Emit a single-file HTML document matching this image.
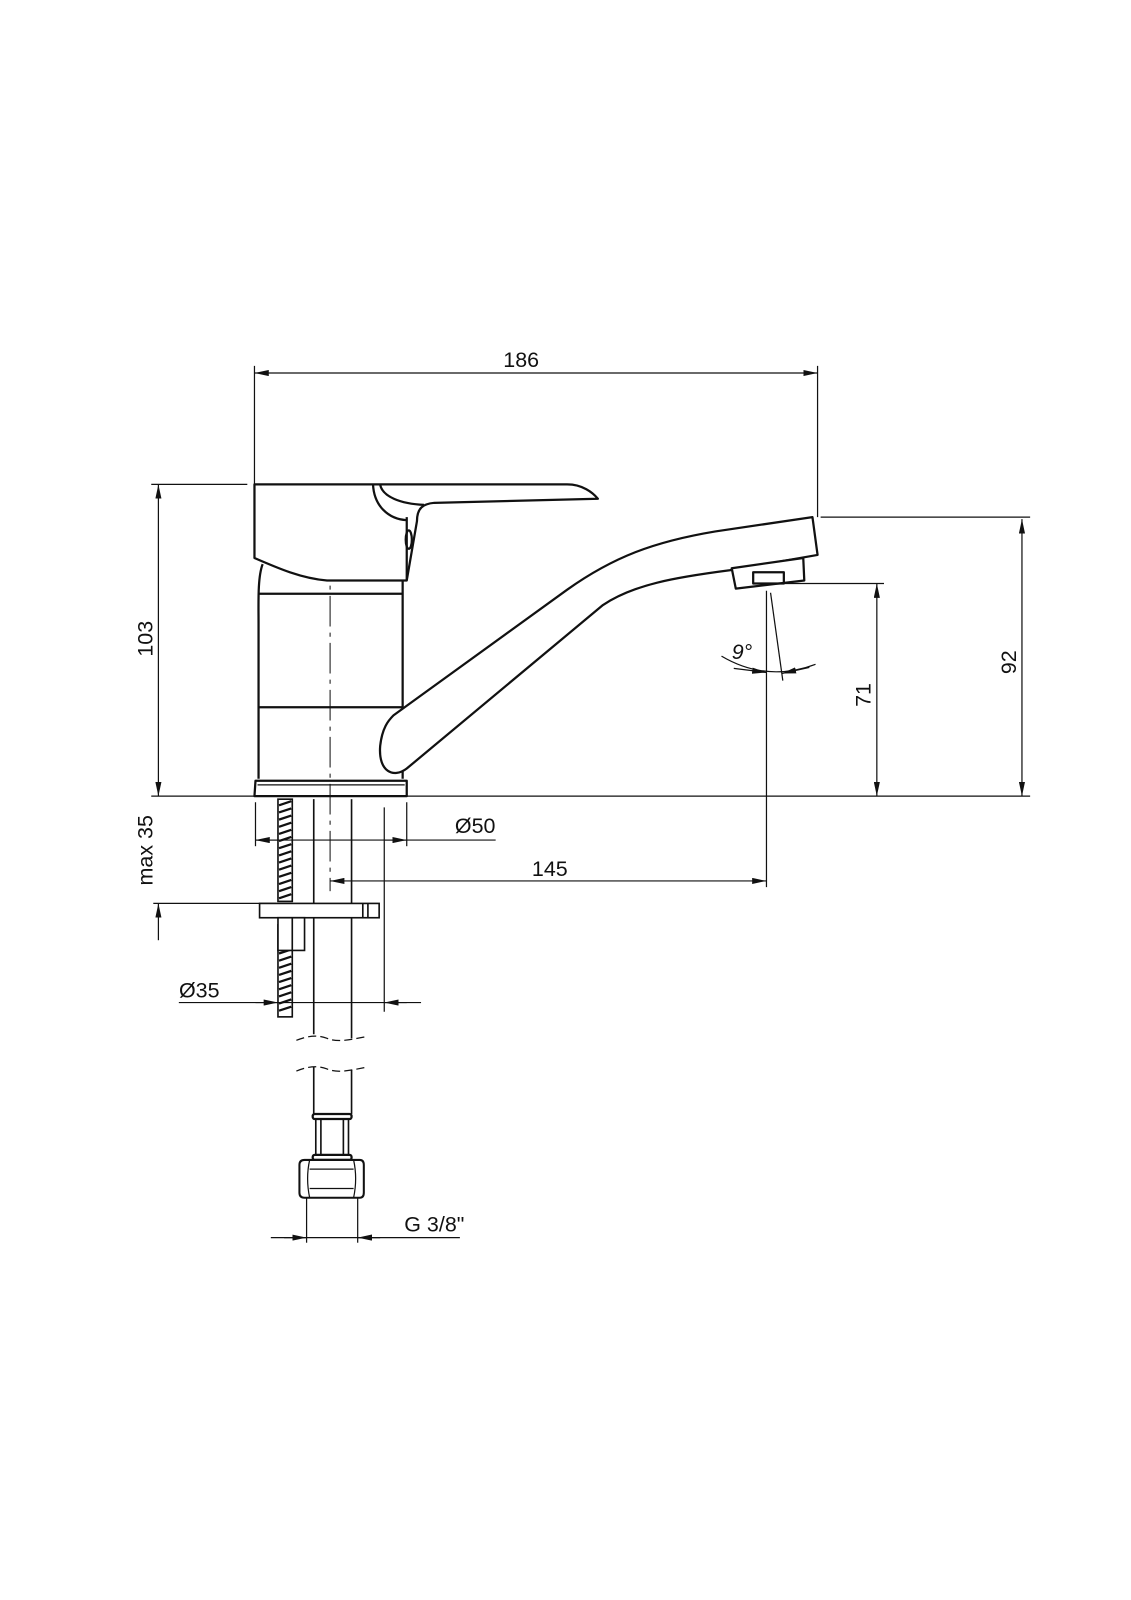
<!DOCTYPE html>
<html><head><meta charset="utf-8"><style>
html,body{margin:0;padding:0;background:#fff;}
svg{display:block;}
text{font-family:"Liberation Sans Narrow","Liberation Sans",sans-serif;font-size:21px;fill:#111;}
</style></head><body>
<svg width="1131" height="1600" viewBox="0 0 1106.7 1565.6" xmlns="http://www.w3.org/2000/svg">
<defs>
<marker id="a" viewBox="0 0 14 6" refX="14" refY="3" markerWidth="14" markerHeight="6" markerUnits="userSpaceOnUse" orient="auto-start-reverse"><path d="M0,0 L14,3 L0,6 Z" fill="#111"/></marker>
</defs>
<g stroke="#111" stroke-width="1.2" fill="none">
<line x1="249" y1="365" x2="800" y2="365" marker-start="url(#a)" marker-end="url(#a)"/>
<line x1="249" y1="358" x2="249" y2="474"/>
<line x1="800" y1="358" x2="800" y2="506"/>
<line x1="155" y1="474" x2="155" y2="779" marker-start="url(#a)" marker-end="url(#a)"/>
<line x1="148" y1="474" x2="242" y2="474"/>
<line x1="148" y1="779" x2="1008" y2="779"/>
<line x1="155" y1="884" x2="155" y2="920" marker-start="url(#a)"/>
<line x1="150" y1="884" x2="270" y2="884"/>
<line x1="250" y1="822" x2="485" y2="822"/>
<line x1="272" y1="822" x2="250" y2="822" marker-end="url(#a)"/>
<line x1="376" y1="822" x2="398" y2="822" marker-end="url(#a)"/>
<line x1="250" y1="785" x2="250" y2="828"/>
<line x1="398" y1="785" x2="398" y2="828"/>
<line x1="323" y1="862" x2="750" y2="862" marker-start="url(#a)" marker-end="url(#a)"/>
<line x1="175" y1="981" x2="412" y2="981"/>
<line x1="250" y1="981" x2="272" y2="981" marker-end="url(#a)"/>
<line x1="398" y1="981" x2="376" y2="981" marker-end="url(#a)"/>
<line x1="376" y1="790" x2="376" y2="990"/>
<line x1="265" y1="1211" x2="450" y2="1211"/>
<line x1="278" y1="1211" x2="300" y2="1211" marker-end="url(#a)"/>
<line x1="372" y1="1211" x2="350" y2="1211" marker-end="url(#a)"/>
<line x1="300" y1="1172" x2="300" y2="1216"/>
<line x1="350" y1="1172" x2="350" y2="1216"/>
<line x1="1000" y1="508" x2="1000" y2="779" marker-start="url(#a)" marker-end="url(#a)"/>
<line x1="803" y1="506" x2="1008" y2="506"/>
<line x1="858" y1="571" x2="858" y2="779" marker-start="url(#a)" marker-end="url(#a)"/>
<line x1="750" y1="571" x2="865" y2="571"/>
<line x1="750" y1="578" x2="750" y2="868"/>
<line x1="754" y1="580" x2="766" y2="666"/>
<path d="M706,642 Q750,668 798,650"/>
<line x1="718" y1="654" x2="750" y2="658" marker-end="url(#a)"/>
<line x1="792" y1="653" x2="765" y2="659" marker-end="url(#a)"/>
<line x1="323" y1="537" x2="323" y2="872" stroke-dasharray="30,6,4,6" stroke-width="1"/>
</g>
<g stroke="#111" stroke-width="2.2" fill="none" stroke-linejoin="round">
<path d="M249,474 L555,474 C570,474 580,482 585,488 L425,492 C414,493 408,497 408,510 L398,568 L320,568 C295,566 272,556 249,546 Z" fill="#fff"/>
<path d="M398,506 L398,568"/>
<path d="M365,474 C366,495 380,508 398,509"/>
<path d="M372,474 C374,486 392,493 415,494"/>
<ellipse cx="400" cy="528" rx="3" ry="9"/>
<path d="M257,552 C252,565 253,590 253,610 L253,762"/>
<path d="M394,568 L394,762"/>
<line x1="253" y1="581" x2="394" y2="581"/>
<line x1="253" y1="692" x2="394" y2="692"/>
<path d="M250,764 L398,764 L398,779 L249,779 Z"/>
<line x1="252" y1="768" x2="396" y2="768" stroke-width="1.2"/>
<path d="M385,700 L555,577 C600,545 640,530 700,520 L795,506 L800,543 L714,558 C660,565 620,572 590,592 L398,752 C385,762 370,755 372,730 C374,712 380,705 385,700 Z" fill="#fff"/>
<path d="M716,556 L786,546 L787,568 L720,576 Z" fill="#fff"/>
<rect x="737" y="560" width="30" height="11"/>
</g>
<g stroke="#111" stroke-width="1.6" fill="none">
<rect x="272" y="782" width="14" height="100"/>
<rect x="272" y="905" width="14" height="90"/>
<path d="M273,788 L285,784 M273,795 L285,791 M273,802 L285,798 M273,809 L285,805 M273,816 L285,812 M273,823 L285,819 M273,830 L285,826 M273,837 L285,833 M273,844 L285,840 M273,851 L285,847 M273,858 L285,854 M273,865 L285,861 M273,872 L285,868 M273,879 L285,875 M273,912 L285,908 M273,919 L285,915 M273,926 L285,922 M273,933 L285,929 M273,940 L285,936 M273,947 L285,943 M273,954 L285,950 M273,961 L285,957 M273,968 L285,964 M273,975 L285,971 M273,982 L285,978 M273,989 L285,985" stroke-width="2.2"/>
<rect x="254" y="884" width="117" height="14" fill="#fff"/>
<line x1="355" y1="884" x2="355" y2="898"/><line x1="360" y1="884" x2="360" y2="898"/>
<rect x="272" y="898" width="26" height="32" fill="#fff"/>
<line x1="286" y1="898" x2="286" y2="930"/>
<line x1="307" y1="782" x2="307" y2="884"/><line x1="344" y1="782" x2="344" y2="884"/>
<line x1="307" y1="898" x2="307" y2="1012"/><line x1="344" y1="898" x2="344" y2="1016"/>
<path d="M290,1018 C300,1014 310,1012 320,1016 C330,1020 340,1018 360,1014" stroke-dasharray="8,4" stroke-width="1.2"/>
<path d="M290,1048 C300,1044 310,1042 320,1046 C330,1050 340,1048 360,1044" stroke-dasharray="8,4" stroke-width="1.2"/>
<line x1="307" y1="1044" x2="307" y2="1090"/><line x1="344" y1="1047" x2="344" y2="1090"/>
<rect x="306" y="1090" width="38" height="5" rx="2" stroke-width="2.2"/>
<rect x="306" y="1130" width="38" height="5" rx="2" stroke-width="2.2"/>
<line x1="309" y1="1095" x2="309" y2="1130"/><line x1="314" y1="1095" x2="314" y2="1130"/>
<line x1="336" y1="1095" x2="336" y2="1130"/><line x1="341" y1="1095" x2="341" y2="1130"/>
<path d="M298,1135 L352,1135 Q356,1135 356,1140 L356,1167 Q356,1172 352,1172 L298,1172 Q293,1172 293,1167 L293,1140 Q293,1135 298,1135 Z" stroke-width="2"/>
<path d="M303,1135 Q299,1153 303,1172 M346,1135 Q350,1153 346,1172 M303,1144 L346,1144 M303,1163 L346,1163" stroke-width="1.2"/>
</g>
<text x="510" y="359" text-anchor="middle">186</text>
<text transform="translate(149,625) rotate(-90)" text-anchor="middle">103</text>
<text transform="translate(149,832) rotate(-90)" text-anchor="middle">max 35</text>
<text x="465" y="815" text-anchor="middle">Ø50</text>
<text x="538" y="857" text-anchor="middle">145</text>
<text x="195" y="976" text-anchor="middle">Ø35</text>
<text x="425" y="1205" text-anchor="middle">G 3/8"</text>
<text transform="translate(994,648) rotate(-90)" text-anchor="middle">92</text>
<text transform="translate(852,680) rotate(-90)" text-anchor="middle">71</text>
<text x="716" y="645" font-style="italic">9°</text>
</svg>
</body></html>
